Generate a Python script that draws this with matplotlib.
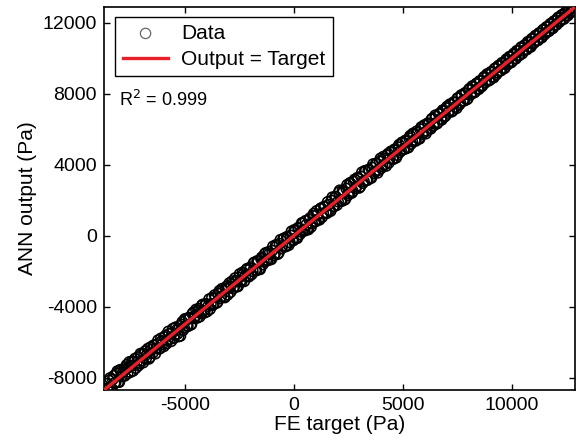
import matplotlib
matplotlib.use("Agg")
import matplotlib.pyplot as plt

# FE target values (Pa) and the matching ANN outputs
target_a = [
    -8600, -8510, -8430, -8340, -8260, -8170, -8090, -8000, -7920, -7830, -7750, -7660, -7580, -7490, -7410, -7320, -7240, -7150, -7070, -6980,
    -6900, -6810, -6730, -6640, -6560, -6470, -6390, -6300, -6220, -6130, -6050, -5960, -5880, -5790, -5710, -5620, -5540, -5450, -5370, -5280,
    -5200, -5110, -5030, -4940, -4860, -4770, -4690, -4600, -4520, -4430, -4350, -4260, -4180, -4090, -4010, -3920, -3840, -3750, -3670, -3580,
    -3500, -3410, -3330, -3240, -3160, -3070, -2990, -2900, -2820, -2730, -2650, -2560, -2480, -2390, -2310, -2220, -2140, -2050, -1970, -1880,
    -1800, -1710, -1630, -1540, -1460, -1370, -1290, -1200, -1120, -1030, -950, -860, -780, -690, -610, -520, -440, -350, -270, -180,
    -100, -10, 70, 160, 240, 330, 410, 500, 580, 670, 750, 840, 920, 1010, 1090, 1180, 1260, 1350, 1430, 1520,
    1600, 1690, 1770, 1860, 1940, 2030, 2110, 2200, 2280, 2370, 2450, 2540, 2620, 2710, 2790, 2880, 2960, 3050, 3130, 3220,
    3300, 3390, 3470, 3560, 3640, 3730, 3810, 3900, 3980, 4070, 4150, 4240, 4320, 4410, 4490, 4580, 4660, 4750, 4830, 4920,
    5000, 5090, 5170, 5260, 5340, 5430, 5510, 5600, 5680, 5770, 5850, 5940, 6020, 6110, 6190, 6280, 6360, 6450, 6530, 6620,
    6700, 6790, 6870, 6960, 7040, 7130, 7210, 7300, 7380, 7470, 7550, 7640, 7720, 7810, 7890, 7980, 8060, 8150, 8230, 8320,
    8400, 8490, 8570, 8660, 8740, 8830, 8910, 9000, 9080, 9170, 9250, 9340, 9420, 9510, 9590, 9680, 9760, 9850, 9930, 10020,
    10100, 10190, 10270, 10360, 10440, 10530, 10610, 10700, 10780, 10870, 10950, 11040, 11120, 11210, 11290, 11380, 11460, 11550, 11630, 11720,
    11800, 11890, 11970, 12060, 12140, 12230, 12310, 12400, 12480, 12570, 12650, 12740, 12820,
]
output_a = [
    -8350, -8690, -8030, -8640, -7910, -8270, -7640, -8250, -7620, -7680, -7900, -7280, -7430, -7690, -7090, -7100, -7460, -6850, -7190, -6700,
    -7150, -6510, -6680, -6940, -6280, -6620, -6190, -6350, -5890, -6350, -5930, -6240, -5630, -5890, -5530, -5950, -5240, -5600, -5310, -5680,
    -5650, -4860, -5180, -4740, -5110, -4670, -4990, -4320, -4520, -4630, -4120, -4380, -3880, -4340, -3860, -3970, -4140, -3500, -3850, -3460,
    -3750, -3110, -3430, -3060, -3480, -2850, -2940, -3180, -2560, -2880, -2550, -2860, -2160, -2590, -2160, -2270, -1860, -2300, -1770, -2000,
    -1500, -1960, -1480, -1890, -1210, -1470, -970, -1400, -1020, -1330, -600, -1010, -580, -970, -230, -570, -140, -600, -120, -380,
    250, -260, 270, -140, 390, 230, 690, 280, 630, 350, 1000, 690, 1250, 810, 1210, 900, 1560, 1250, 1630, 1270,
    1750, 1390, 2170, 1660, 2190, 1930, 2560, 1950, 2480, 2070, 2870, 2390, 2920, 2510, 3170, 2780, 3210, 2770, 3580, 3070,
    3650, 3140, 3670, 3260, 4040, 3630, 4060, 3700, 4360, 3920, 4350, 3940, 4620, 4360, 4740, 4330, 4810, 4550, 5130, 4820,
    5250, 4890, 5320, 4980, 5640, 5330, 5710, 5350, 5800, 5470, 6130, 5790, 6240, 5910, 6290, 6030, 6620, 6330, 6710, 6400,
    6900, 6540, 7020, 6760, 7290, 7030, 7390, 7070, 7500, 7190, 7770, 7490, 7920, 7610, 7990, 7730, 8290, 8030, 8380, 8120,
    8600, 8270, 8720, 8480, 8970, 8730, 9080, 8800, 9200, 8920, 9450, 9210, 9600, 9320, 9690, 9460, 9960, 9730, 10090, 9840,
    10280, 9990, 10410, 10190, 10640, 10430, 10770, 10510, 10890, 10650, 11130, 10920, 11290, 11030, 11390, 11180, 11640, 11440, 11780, 11560,
    11970, 11710, 12100, 11910, 12320, 12130, 12460, 12230, 12600, 12420, 12750, 12620, 12880,
]
target_b = [
    -8560, -8470, -8390, -8300, -8220, -8130, -8050, -7960, -7880, -7790, -7710, -7620, -7540, -7450, -7370, -7280, -7200, -7110, -7030, -6940,
    -6860, -6770, -6690, -6600, -6520, -6430, -6350, -6260, -6180, -6090, -6010, -5920, -5840, -5750, -5670, -5580, -5500, -5410, -5330, -5240,
    -5160, -5070, -4990, -4900, -4820, -4730, -4650, -4560, -4480, -4390, -4310, -4220, -4140, -4050, -3970, -3880, -3800, -3710, -3630, -3540,
    -3460, -3370, -3290, -3200, -3120, -3030, -2950, -2860, -2780, -2690, -2610, -2520, -2440, -2350, -2270, -2180, -2100, -2010, -1930, -1840,
    -1760, -1670, -1590, -1500, -1420, -1330, -1250, -1160, -1080, -990, -910, -820, -740, -650, -570, -480, -400, -310, -230, -140,
    -60, 30, 110, 200, 280, 370, 450, 540, 620, 710, 790, 880, 960, 1050, 1130, 1220, 1300, 1390, 1470, 1560,
    1640, 1730, 1810, 1900, 1980, 2070, 2150, 2240, 2320, 2410, 2490, 2580, 2660, 2750, 2830, 2920, 3000, 3090, 3170, 3260,
    3340, 3430, 3510, 3600, 3680, 3770, 3850, 3940, 4020, 4110, 4190, 4280, 4360, 4450, 4530, 4620, 4700, 4790, 4870, 4960,
    5040, 5130, 5210, 5300, 5380, 5470, 5550, 5640, 5720, 5810, 5890, 5980, 6060, 6150, 6230, 6320, 6400, 6490, 6570, 6660,
    6740, 6830, 6910, 7000, 7080, 7170, 7250, 7340, 7420, 7510, 7590, 7680, 7760, 7850, 7930, 8020, 8100, 8190, 8270, 8360,
    8440, 8530, 8610, 8700, 8780, 8870, 8950, 9040, 9120, 9210, 9290, 9380, 9460, 9550, 9630, 9720, 9800, 9890, 9970, 10060,
    10140, 10230, 10310, 10400, 10480, 10570, 10650, 10740, 10820, 10910, 10990, 11080, 11160, 11250, 11330, 11420, 11500, 11590, 11670, 11760,
    11840, 11930, 12010, 12100, 12180, 12270, 12350, 12440, 12520, 12610, 12690, 12780,
]
output_b = [
    -8610, -8170, -8640, -8100, -8320, -7780, -8250, -7560, -7930, -7540, -7410, -7770, -7120, -7350, -7620, -6930, -7150, -7310, -6650, -7040,
    -6660, -6920, -6370, -6850, -6420, -6180, -6650, -6110, -6380, -5790, -6110, -5720, -6090, -5400, -5820, -5480, -5780, -5160, -5530, -5090,
    -5010, -5320, -4690, -5050, -4620, -5030, -4400, -4660, -4160, -4240, -4560, -3940, -4240, -3850, -4270, -3580, -3850, -3910, -3350, -3790,
    -3260, -3520, -2990, -3450, -2970, -3330, -2670, -2760, -2980, -2390, -2860, -2370, -2540, -2070, -2570, -1930, -2250, -1860, -2180, -1540,
    -1910, -1420, -1890, -1300, -1620, -1030, -1350, -910, -1330, -840, -1110, -520, -1040, -450, -720, -180, -600, -60, -530, 10,
    -210, 330, -140, 450, 80, 720, 350, 840, 370, 910, 490, 1130, 810, 1400, 930, 1520, 1050, 1640, 1320, 1910,
    1440, 1980, 1660, 2200, 1730, 2450, 2000, 2540, 2020, 2660, 2290, 2980, 2410, 3050, 2680, 3270, 2700, 3340, 2970, 3660,
    3140, 3730, 3260, 3850, 3530, 4070, 3550, 4190, 3820, 4460, 4040, 4530, 4110, 4750, 4330, 4870, 4400, 4990, 4720, 5260,
    4890, 5380, 4960, 5500, 5180, 5770, 5400, 5890, 5470, 6010, 5740, 6230, 5760, 6350, 6080, 6570, 6200, 6790, 6320, 6860,
    6590, 7080, 6710, 7200, 6930, 7420, 7000, 7540, 7270, 7760, 7390, 7930, 7610, 8050, 7680, 8220, 7950, 8440, 8070, 8560,
    8290, 8730, 8410, 8900, 8630, 9120, 8750, 9240, 8970, 9410, 9090, 9580, 9310, 9750, 9430, 9870, 9650, 10090, 9770, 10210,
    9990, 10430, 10160, 10580, 10280, 10720, 10500, 10940, 10670, 11090, 10840, 11280, 11010, 11430, 11180, 11590, 11350, 11770, 11520, 11930,
    11690, 12100, 11890, 12260, 12050, 12420, 12230, 12570, 12420, 12730, 12600, 12860,
]
# ends of the Output = Target line (also the axis limits)
ideal = [-8700, 12900]
xticks = [-5000, 0, 5000, 10000]
yticks = [-8000, -4000, 0, 4000, 8000, 12000]
r2 = 0.999

plt.rcParams['font.family'] = ['Liberation Sans', 'DejaVu Sans']
plt.rcParams['axes.unicode_minus'] = False

fig = plt.figure(figsize=(5.78, 4.47), dpi=100)
ax = fig.add_axes([0.180, 0.1275, 0.8148, 0.8568])

ax.scatter(target_a + target_b, output_a + output_b, s=55, facecolors='none',
           edgecolors='black', linewidths=1.15, label='Data', zorder=2)
ax.plot(ideal, ideal, color='#e8202a', linewidth=2.4, label='Output = Target', zorder=3)

ax.set_xlim(ideal)
ax.set_ylim(ideal)
ax.set_xticks(xticks)
ax.set_yticks(yticks)
ax.tick_params(direction='in', length=4, width=1, top=True, right=True, labelsize=14, pad=5)
for sp in ax.spines.values():
    sp.set_linewidth(1.2)

ax.set_xlabel('FE target (Pa)', fontsize=15, labelpad=1)
ax.set_ylabel('ANN output (Pa)', fontsize=15, labelpad=4)

ax.text(0.032, 0.757, f'R$^{{2}}$ = {r2}', transform=ax.transAxes, fontsize=13,
        va='center', ha='left')

leg = ax.legend(loc='upper left', bbox_to_anchor=(0.024, 0.975), fontsize=15,
                fancybox=False, framealpha=1, edgecolor='black', borderpad=0.35,
                handlelength=2.2, handletextpad=0.6, labelspacing=0.35, borderaxespad=0)
leg.get_frame().set_linewidth(1.0)
leg.legend_handles[0].set_edgecolor('0.4')
leg.legend_handles[0].set_linewidth(0.9)

fig.savefig('out.png', dpi=100)
